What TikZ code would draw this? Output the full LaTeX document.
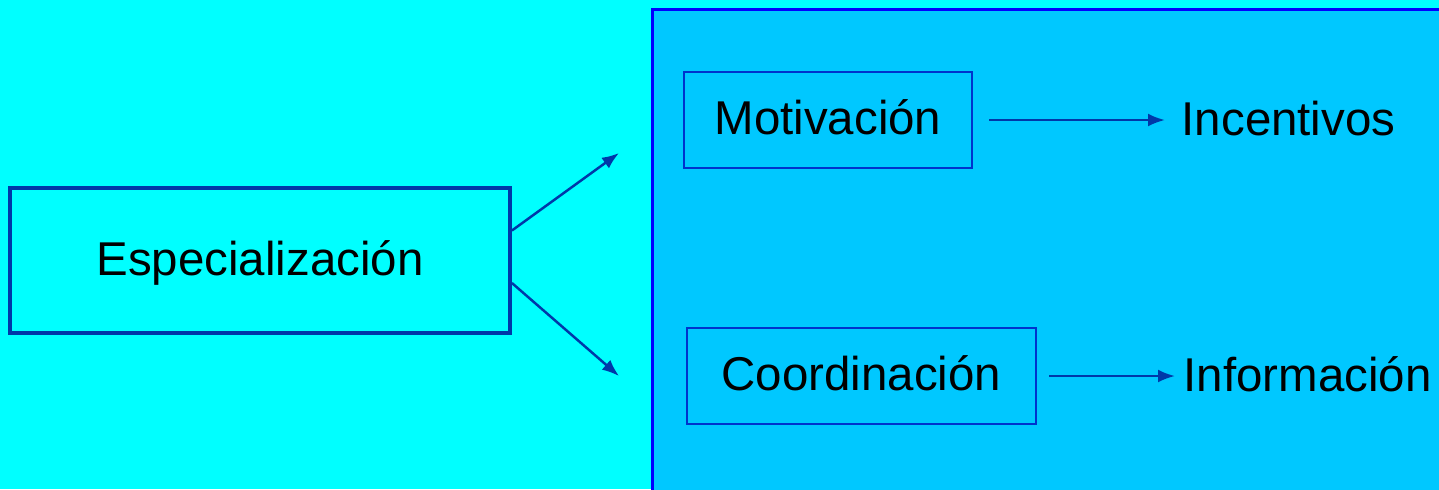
\documentclass[tikz,border=0pt]{standalone}
\usepackage{fontspec}
\setmainfont{Liberation Sans}
\usetikzlibrary{arrows.meta}
\definecolor{bgcyan}{RGB}{0,255,255}
\definecolor{panel}{RGB}{0,200,255}
\definecolor{panelline}{RGB}{0,0,255}
\definecolor{boxline}{RGB}{0,51,204}
\definecolor{arrowblue}{RGB}{0,56,168}
\tikzset{
	every node/.style={font=\fontsize{13.5}{16}\selectfont, text height=10pt, text depth=1.5pt},
	mainbox/.style={draw=arrowblue, line width=1.1pt, minimum width=50mm, minimum height=14.5mm},
	subbox/.style={draw=boxline, line width=0.7pt, minimum height=9.6mm},
	result/.style={anchor=west, inner sep=0pt},
	link/.style={draw=arrowblue, line width=0.7pt, -{Latex[length=1.7mm,width=1.3mm]}}
}

\begin{document}
\begin{tikzpicture}[x=0.1mm,y=-0.1mm]
	\useasboundingbox (0,0) rectangle (1439,489);
	\clip (0,0) rectangle (1439,489);
	\fill[bgcyan] (0,0) rectangle (1439,489);
	\filldraw[fill=panel,draw=panelline,line width=0.85pt] (652,9) rectangle (1460,510);

	\node[mainbox] (espec) at (260,260.5) {Especialización};
	\node[subbox,minimum width=28.8mm] (motiv) at (828,120) {Motivación};
	\node[subbox,minimum width=34.9mm] (coord) at (861.5,376) {Coordinación};
	\node[result] (incent) at (1181,121) {Incentivos};
	\node[result] (inform) at (1183,377) {Información};

	\coordinate (motiv-in) at (619,153);
	\coordinate (coord-in) at (619,376);

	\draw[link] ([yshift=3mm]espec.east) -- (motiv-in);
	\draw[link] ([yshift=-2.25mm]espec.east) -- (coord-in);
	\draw[link,shorten <=1.6mm,shorten >=1.6mm] (motiv.east) -- (motiv.east-|incent.west);
	\draw[link,shorten <=1.2mm,shorten >=0.8mm] (coord.east) -- (coord.east-|inform.west);
\end{tikzpicture}
\end{document}
